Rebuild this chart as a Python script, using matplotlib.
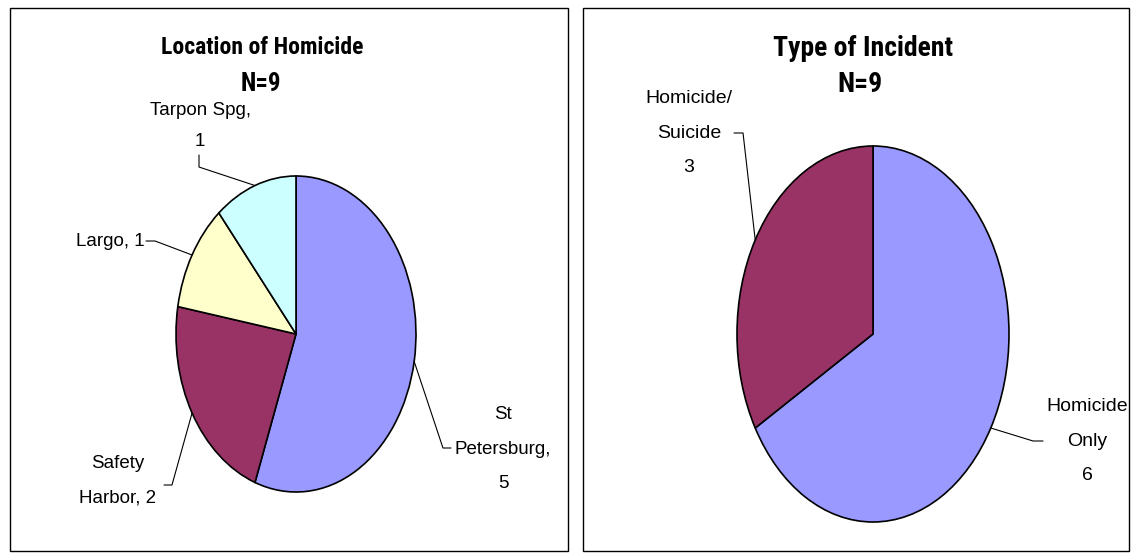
import numpy as np
import matplotlib
matplotlib.use("Agg")
import matplotlib.pyplot as plt
from matplotlib.patches import Rectangle

# Data
loc_names = ["St\nPetersburg,\n", "Safety\nHarbor,", "Largo,", "Tarpon Spg,\n"]
loc_counts = [5, 2, 1, 1]
loc_colors = ["#9999FF", "#993366", "#FFFFCC", "#CCFFFF"]

inc_names = ["Homicide\nOnly\n", "Homicide/\nSuicide\n"]
inc_counts = [6, 3]
inc_colors = ["#9999FF", "#993366"]

W, H = 1132, 560
narrow = ["Roboto Condensed", "PT Sans Narrow", "Encode Sans Condensed", "Liberation Sans", "DejaVu Sans"]
regular = ["Liberation Sans", "DejaVu Sans"]

fig = plt.figure(figsize=(W / 100, H / 100), dpi=100)
fig.patch.set_facecolor("white")

# panel frames (pixel boxes)
for x0, y0, x1, y1 in [(10, 8, 568, 551), (583, 8, 1129, 551)]:
    fig.add_artist(Rectangle((x0 / W, 1 - y1 / H), (x1 - x0) / W, (y1 - y0) / H,
                             transform=fig.transFigure, fill=False,
                             edgecolor="black", linewidth=1.0))


def make_pie(cx, cy, rx, ry, counts, colors):
    ax = fig.add_axes([(cx - rx) / W, 1 - (cy + ry) / H, 2 * rx / W, 2 * ry / H])
    ax.pie(counts, colors=colors, startangle=90, counterclock=False, radius=1,
           wedgeprops=dict(edgecolor="black", linewidth=1.2))
    ax.set_aspect("auto")
    ax.set_xlim(-1, 1)
    ax.set_ylim(-1, 1)
    ax.axis("off")
    # pixel -> data helper
    to_d = lambda px, py: ((px - cx) / rx, (cy - py) / ry)
    total = sum(counts)
    mids = 90 - 360 * (np.cumsum(counts) - np.array(counts) / 2) / total
    return ax, to_d, mids


def label(ax, to_d, mid, text, pos, tick, corner, size, ls, ha="center"):
    ax.text(*to_d(*pos), text, ha=ha, va="center", multialignment="center",
            fontsize=size, family=regular, linespacing=ls)
    edge = (np.cos(np.radians(mid)), np.sin(np.radians(mid)))
    a = ax.transData.transform(to_d(*tick))
    c = ax.transData.transform(to_d(*corner))
    b = ax.transData.transform(edge)
    angA = np.degrees(np.arctan2(c[1] - a[1], c[0] - a[0]))
    angB = np.degrees(np.arctan2(c[1] - b[1], c[0] - b[0]))
    ax.annotate("", xy=edge, xytext=to_d(*tick), annotation_clip=False,
                arrowprops=dict(arrowstyle="-", color="black", lw=0.8,
                                shrinkA=0, shrinkB=0,
                                connectionstyle=f"angle,angleA={angA:.1f},angleB={angB:.1f},rad=0"))


# Left: Location of Homicide
ax1, d1, m1 = make_pie(296, 334, 120, 158, loc_counts, loc_colors)
t = [f"{n}{c}" if n.endswith("\n") else f"{n} {c}" for n, c in zip(loc_names, loc_counts)]
label(ax1, d1, m1[0], t[0], (503, 449), (451, 448), (443, 448), 13.5, 2.35)
label(ax1, d1, m1[1], t[1], (118, 481), (164, 485), (172, 485), 13.5, 2.35)
label(ax1, d1, m1[2], t[2], (145, 241), (146, 241), (155, 241), 13.5, 2.35, ha="right")
label(ax1, d1, m1[3], t[3], (200, 126), (199, 155), (199, 167), 13.5, 2.1)
fig.text(262 / W, 1 - 48 / H, "Location of Homicide", ha="center", va="center",
         fontsize=17, fontweight="bold", family=narrow)
fig.text(261 / W, 1 - 84 / H, "N=9", ha="center", va="center",
         fontsize=18, fontweight="bold", family=narrow)

# Right: Type of Incident
ax2, d2, m2 = make_pie(873, 334, 136, 188, inc_counts, inc_colors)
t2 = [f"{n}{c}" for n, c in zip(inc_names, inc_counts)]
label(ax2, d2, m2[0], t2[0], (1087, 441), (1043, 441), (1033, 441), 14, 2.35)
label(ax2, d2, m2[1], t2[1], (689, 133), (734, 133), (743, 133), 14, 2.35)
fig.text(863 / W, 1 - 49 / H, "Type of Incident", ha="center", va="center",
         fontsize=20, fontweight="bold", family=narrow)
fig.text(860 / W, 1 - 85 / H, "N=9", ha="center", va="center",
         fontsize=20, fontweight="bold", family=narrow)

fig.savefig("out.png", dpi=100, facecolor="white")
